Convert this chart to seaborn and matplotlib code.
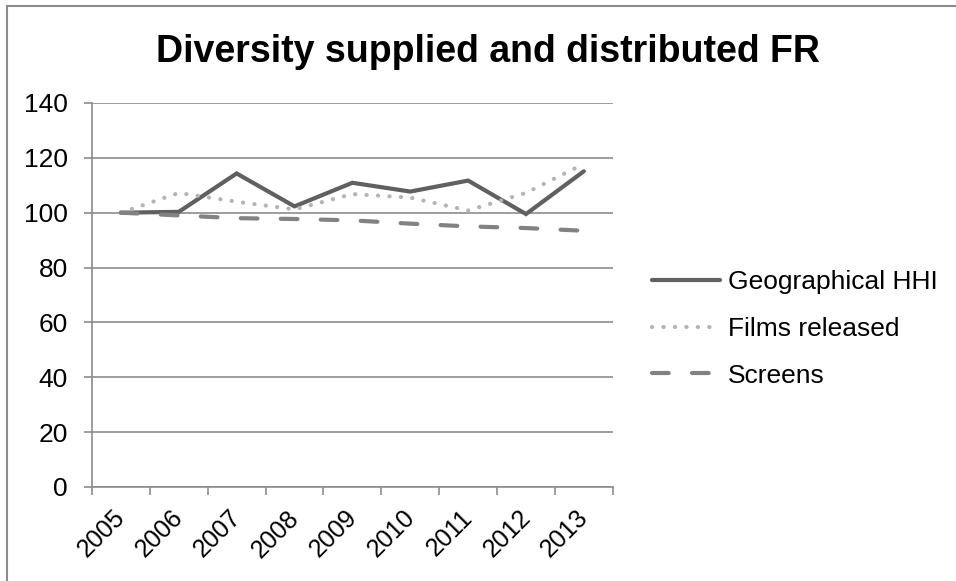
import matplotlib
matplotlib.use("Agg")
import matplotlib.pyplot as plt
import matplotlib.transforms as mtransforms
import seaborn as sns
import pandas as pd
import numpy as np

years = ["2005", "2006", "2007", "2008", "2009", "2010", "2011", "2012", "2013"]
geo_hhi = [100.0, 100.3, 114.3, 102.3, 110.9, 107.7, 111.7, 99.5, 115.1]
films_released = [100.0, 107.2, 104.0, 101.2, 106.8, 105.5, 100.8, 107.2, 117.8]
screens = [100.0, 99.0, 98.0, 97.7, 97.2, 96.0, 95.0, 94.4, 93.4]
series_names = ["Geographical HHI", "Films released", "Screens"]

sns.set_style("white")
plt.rcParams["font.family"] = ["Liberation Sans", "DejaVu Sans"]
plt.rcParams["text.color"] = "black"
plt.rcParams["xtick.color"] = "black"
plt.rcParams["ytick.color"] = "black"

df = pd.DataFrame({
    "pos": list(range(len(years))) * 3,
    "value": geo_hhi + films_released + screens,
    "series": [series_names[0]] * len(years) + [series_names[1]] * len(years) + [series_names[2]] * len(years),
})

fig = plt.figure(figsize=(9.56, 5.81), dpi=100)
ax = fig.add_axes([0.0962, 0.1618, 0.5448, 0.661])

colors = {"Geographical HHI": "#606060", "Films released": "#b4b4b4", "Screens": "#828282"}

for name in series_names:
    sub = df[df["series"] == name]
    sns.lineplot(data=sub, x="pos", y="value", ax=ax, color=colors[name],
                 lw=3.0, label=name, legend=False)
lines = ax.get_lines()
lines[0].set_linestyle("-")
lines[1].set_linestyle((0, (0.05, 2.7)))
lines[1].set_dash_capstyle("round")
lines[2].set_linestyle((0, (4.0, 5.6)))
lines[2].set_dash_capstyle("round")
for ln in lines:
    ln.set_solid_capstyle("round")
    ln.set_solid_joinstyle("miter")

ax.set_xlim(-0.5, len(years) - 0.5)
ax.set_ylim(0, 140)
ax.set_yticks(np.arange(0, 141, 20))
ax.set_xticks(range(len(years)))
ax.set_xticklabels(years, rotation=45, ha="right", va="center", rotation_mode="anchor")
ax.set_xticks(np.arange(-0.5, len(years), 1.0), minor=True)
ax.tick_params(axis="x", which="major", bottom=True, length=0, pad=0, labelsize=18)
ax.tick_params(axis="x", which="minor", bottom=True, length=5.5, width=1.2, color="#8c8c8c",
               direction="out")
ax.tick_params(axis="y", which="major", left=True, length=5.8, width=1.2, color="#8c8c8c",
               direction="out", labelsize=19, pad=11.5)
ax.set_xlabel("")
ax.set_ylabel("")

# rotated year labels sit just below each category centre
shift = mtransforms.ScaledTranslation(0.5 / 72, -19.5 / 72, fig.dpi_scale_trans)
for tick in ax.xaxis.get_major_ticks():
    tick.label1.set_transform(tick.label1.get_transform() + shift)

ax.grid(axis="y", color="#8c8c8c", lw=1.2)
ax.set_axisbelow(True)
for s in ["top", "right"]:
    ax.spines[s].set_visible(False)
for s in ["left", "bottom"]:
    ax.spines[s].set_color("#8c8c8c")
    ax.spines[s].set_linewidth(1.2)

fig.text(488 / 956, 1 - 62 / 581, "Diversity supplied and distributed FR", ha="center",
         va="baseline", fontsize=27, fontweight="bold")

leg = fig.legend(lines, series_names, loc="center left", bbox_to_anchor=(652 / 956, 1 - 329 / 581),
                 frameon=False, fontsize=19, handlelength=2.58, handletextpad=0.3,
                 labelspacing=0.86, borderpad=0, borderaxespad=0)

border = plt.Rectangle((7 / 956, -0.05), 1.1, 1 - 6 / 581 + 0.05, transform=fig.transFigure,
                       fill=False, edgecolor="#8c8c8c", lw=1.5, clip_on=False)
fig.patches.append(border)

fig.savefig("out.png", dpi=100)
